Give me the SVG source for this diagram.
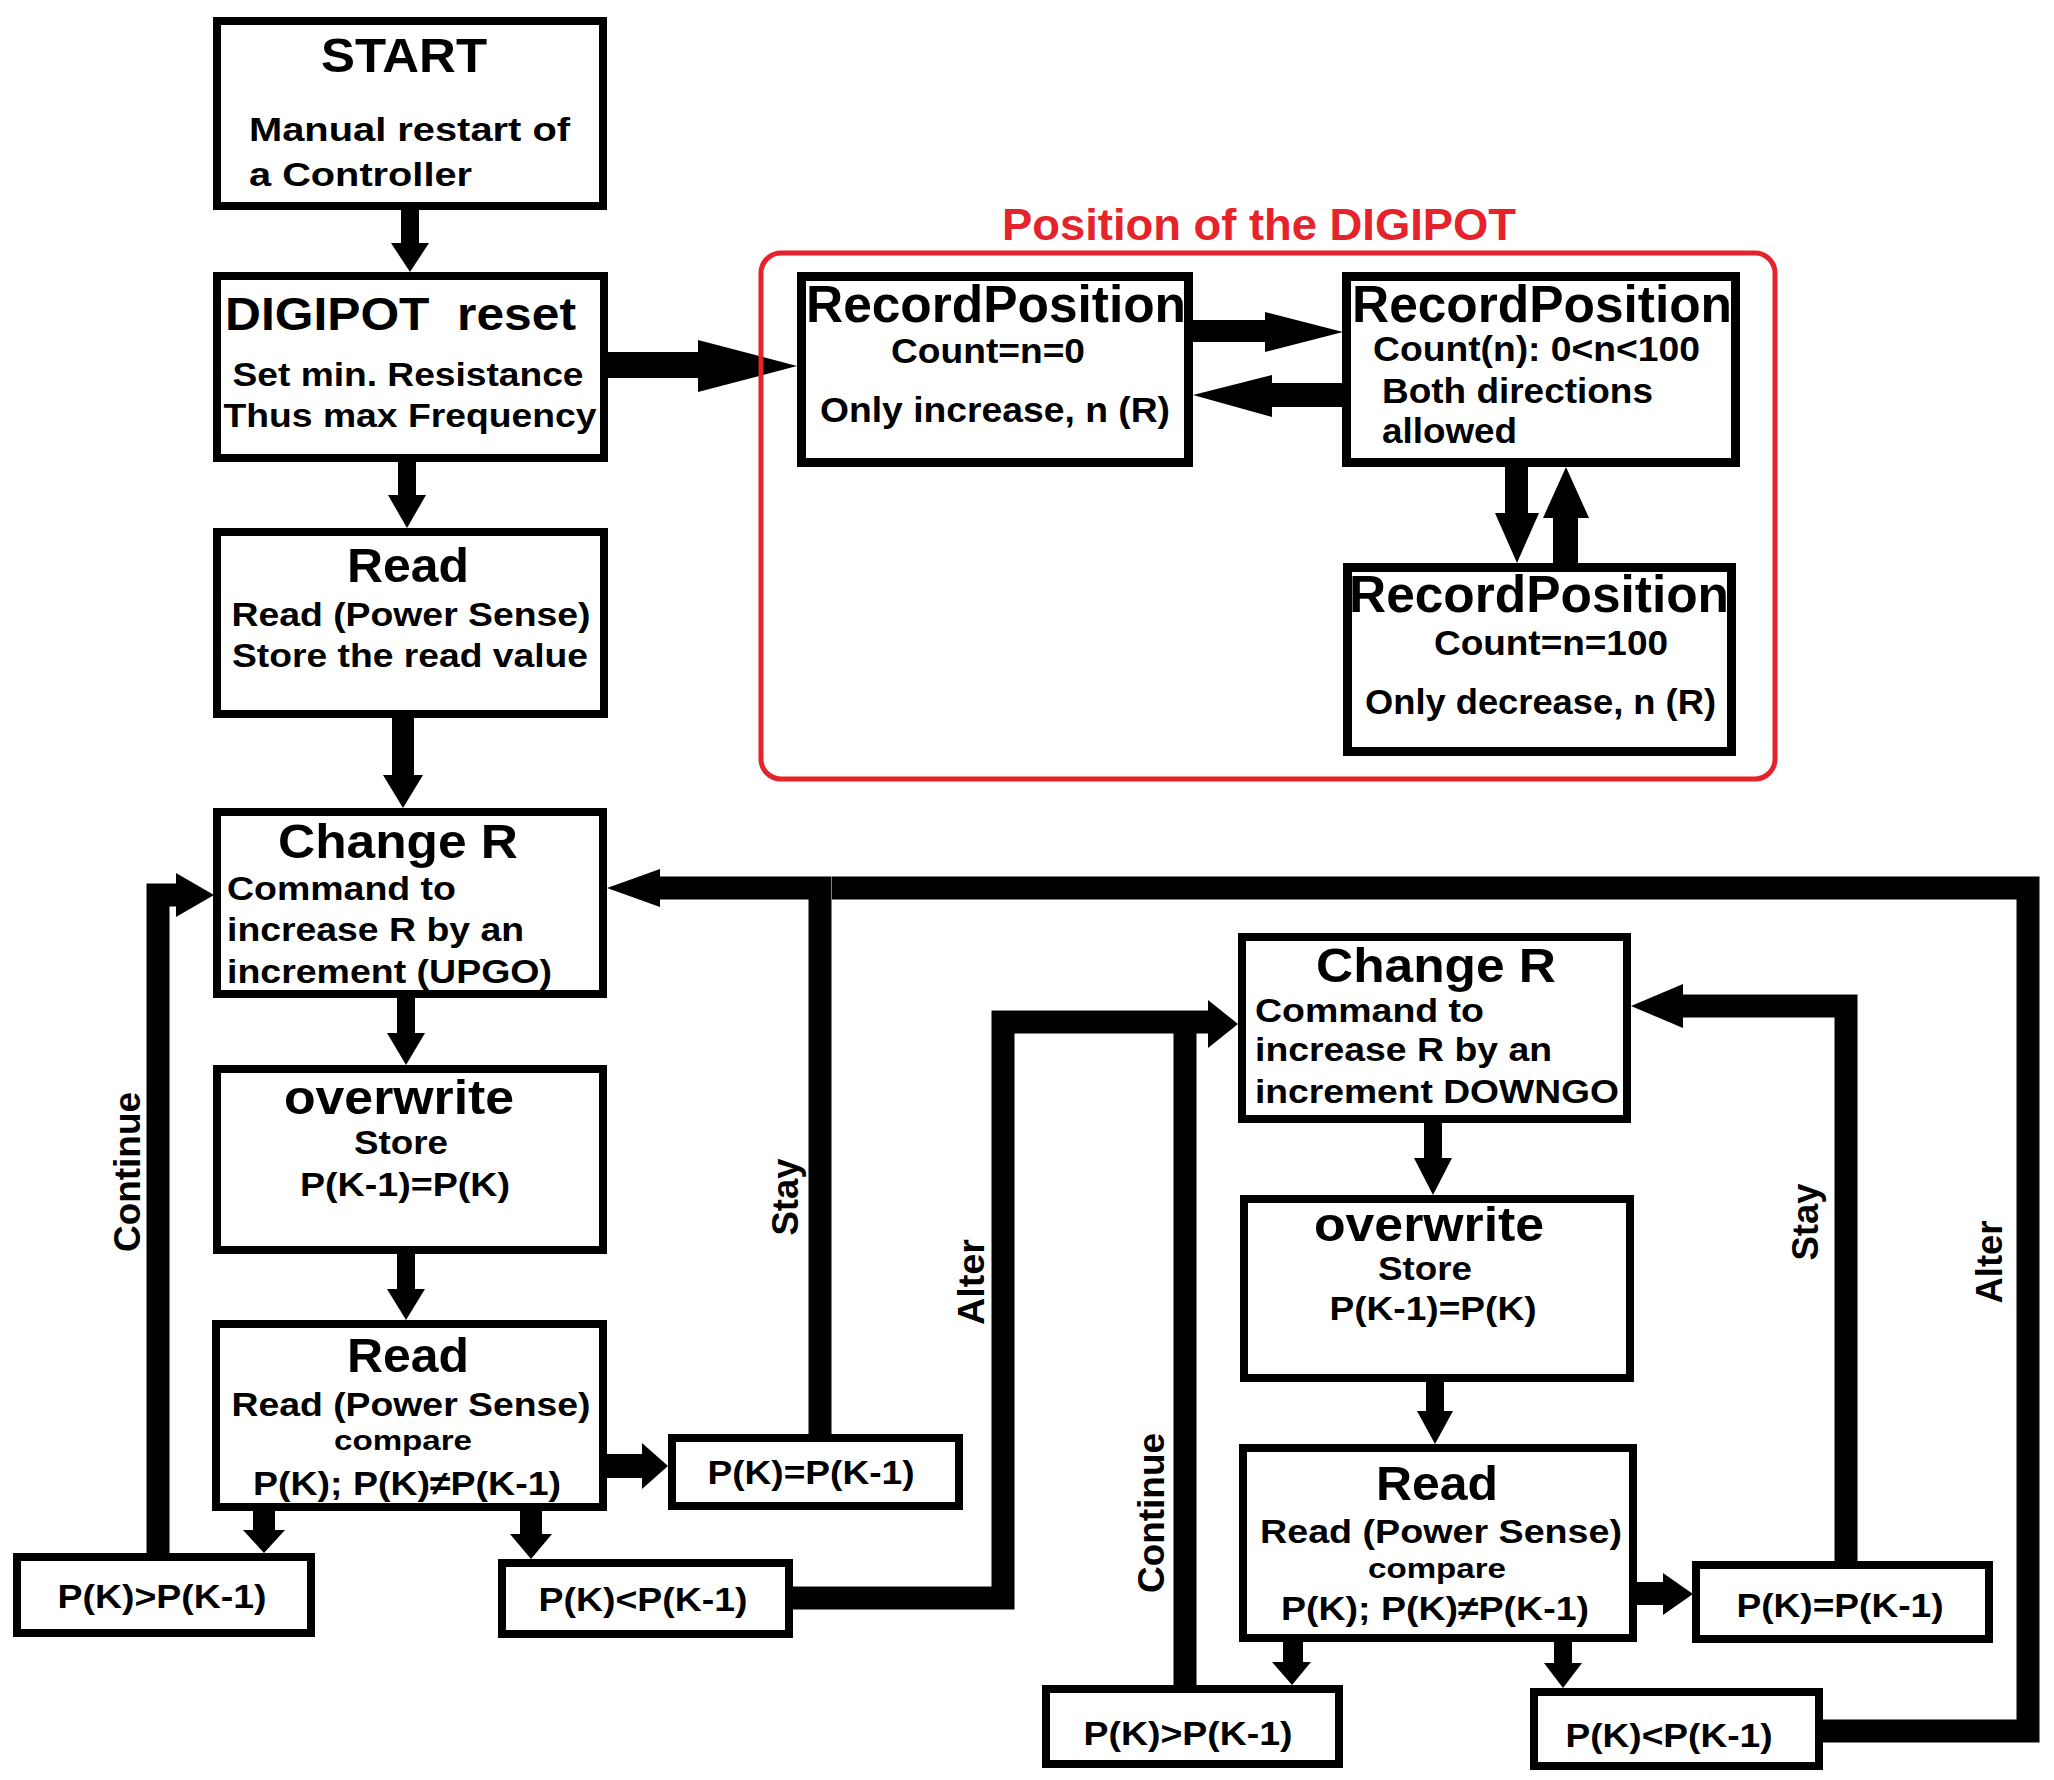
<svg xmlns="http://www.w3.org/2000/svg" width="2054" height="1780" viewBox="0 0 2054 1780">
<style>
text{font-family:"Liberation Sans",Arial,sans-serif;font-weight:bold;fill:#000}
.box{fill:#fff;stroke:#000;stroke-width:8}
.rp{fill:#fff;stroke:#000;stroke-width:9}
.t{font-size:48px}
.b{font-size:34px}
.s{font-size:28px}
.rpt{font-size:52px}
.rps{font-size:35px}
.lbl{font-size:37px}
.c{text-anchor:middle}
.line{fill:none;stroke:#000;stroke-width:23;stroke-linejoin:miter}
.ah{fill:#000}
</style>
<rect width="2054" height="1780" fill="#fff"/>

<g id="connectors">
  <!-- START -> DIGIPOT -->
  <rect class="ah" x="401" y="206" width="18" height="38"/>
  <polygon class="ah" points="391,243 429,243 410,272"/>
  <!-- DIGIPOT -> Read -->
  <rect class="ah" x="398" y="458" width="18" height="38"/>
  <polygon class="ah" points="388,495 426,495 407,528"/>
  <!-- Read -> Change R -->
  <rect class="ah" x="392" y="714" width="22" height="62"/>
  <polygon class="ah" points="383,775 423,775 403,808"/>
  <!-- Change R -> overwrite -->
  <rect class="ah" x="397" y="994" width="18" height="40"/>
  <polygon class="ah" points="387,1033 425,1033 406,1065"/>
  <!-- overwrite -> Read -->
  <rect class="ah" x="397" y="1250" width="18" height="40"/>
  <polygon class="ah" points="387,1289 425,1289 406,1320"/>
  <!-- Read -> P(K)=P(K-1) -->
  <rect class="ah" x="603" y="1454" width="40" height="24"/>
  <polygon class="ah" points="642,1443 642,1489 668,1466"/>
  <!-- Read -> P(K)>P(K-1) -->
  <rect class="ah" x="253" y="1507" width="22" height="24"/>
  <polygon class="ah" points="243,1530 285,1530 264,1553"/>
  <!-- Read -> P(K)<P(K-1) -->
  <rect class="ah" x="520" y="1507" width="22" height="28"/>
  <polygon class="ah" points="510,1534 552,1534 531,1559"/>

  <!-- DIGIPOT -> RecordPosition n=0 -->
  <rect class="ah" x="604" y="352" width="96" height="26"/>
  <polygon class="ah" points="698,340 698,392 797,366"/>
  <!-- RP1 -> RP2 -->
  <rect class="ah" x="1189" y="320" width="78" height="22"/>
  <polygon class="ah" points="1265,312 1265,352 1343,332"/>
  <!-- RP2 -> RP1 -->
  <rect class="ah" x="1270" y="383" width="76" height="24"/>
  <polygon class="ah" points="1272,375 1272,417 1193,395"/>
  <!-- RP2 -> RP3 -->
  <rect class="ah" x="1505" y="463" width="23" height="52"/>
  <polygon class="ah" points="1495,513 1539,513 1517,563"/>
  <!-- RP3 -> RP2 -->
  <rect class="ah" x="1553" y="516" width="25" height="51"/>
  <polygon class="ah" points="1543,518 1589,518 1566,467"/>

  <!-- Continue (left) -->
  <path class="line" d="M158,1555 V895 H178"/>
  <polygon class="ah" points="176,873 176,917 214,895"/>
  <!-- Stay (left) -->
  <path class="line" d="M820,1436 V888 H658"/>
  <polygon class="ah" points="660,869 660,907 607,888"/>
  <!-- Alter (right lower to left Change R) -->
  <path class="line" d="M1821,1731 H2028 V888 H832"/>
  <!-- Alter (left lower to right Change R) -->
  <path class="line" d="M791,1598 H1003 V1022 H1212"/>
  <polygon class="ah" points="1208,1000 1208,1048 1238,1024"/>
  <!-- Continue (right) -->
  <path class="line" d="M1185,1687 V1022"/>

  <!-- Change R (2) -> overwrite (2) -->
  <rect class="ah" x="1424" y="1119" width="18" height="40"/>
  <polygon class="ah" points="1414,1158 1452,1158 1433,1195"/>
  <!-- overwrite (2) -> Read (2) -->
  <rect class="ah" x="1426" y="1378" width="18" height="34"/>
  <polygon class="ah" points="1417,1411 1453,1411 1435,1444"/>
  <!-- Read(3) -> P(K)=P(K-1) -->
  <rect class="ah" x="1633" y="1582" width="32" height="23"/>
  <polygon class="ah" points="1663,1573 1663,1615 1693,1594"/>
  <!-- Read(3) -> P(K)>P(K-1) -->
  <rect class="ah" x="1283" y="1638" width="20" height="26"/>
  <polygon class="ah" points="1272,1662 1311,1662 1292,1685"/>
  <!-- Read(3) -> P(K)<P(K-1) -->
  <rect class="ah" x="1554" y="1638" width="18" height="27"/>
  <polygon class="ah" points="1544,1663 1582,1663 1563,1688"/>
  <!-- Stay (right) -->
  <path class="line" d="M1846,1563 V1006 H1680"/>
  <polygon class="ah" points="1683,984 1683,1028 1631,1006"/>

  <!-- connector labels -->
  <text class="lbl c" transform="translate(140,1172) rotate(-90)" textLength="160" lengthAdjust="spacingAndGlyphs">Continue</text>
  <text class="lbl c" transform="translate(798,1197) rotate(-90)" textLength="77" lengthAdjust="spacingAndGlyphs">Stay</text>
  <text class="lbl c" transform="translate(984,1282) rotate(-90)" textLength="86" lengthAdjust="spacingAndGlyphs">Alter</text>
  <text class="lbl c" transform="translate(1164,1513) rotate(-90)" textLength="160" lengthAdjust="spacingAndGlyphs">Continue</text>
  <text class="lbl c" transform="translate(1818,1222) rotate(-90)" textLength="77" lengthAdjust="spacingAndGlyphs">Stay</text>
  <text class="lbl c" transform="translate(2002,1262) rotate(-90)" textLength="83" lengthAdjust="spacingAndGlyphs">Alter</text>
</g>

<g id="digipot-frame">
  <rect x="761" y="253" width="1014" height="526" rx="20" fill="none" stroke="#e5232b" stroke-width="5"/>
  <text x="1259" y="240" class="c" style="font-size:44px;fill:#e5232b" textLength="514" lengthAdjust="spacingAndGlyphs">Position of the DIGIPOT</text>
</g>

<g id="start">
  <rect class="box" x="217" y="21" width="386" height="185"/>
  <text class="t c" x="404" y="72" textLength="166" lengthAdjust="spacingAndGlyphs">START</text>
  <text class="b" x="249" y="141" textLength="321" lengthAdjust="spacingAndGlyphs">Manual restart of</text>
  <text class="b" x="249" y="186" textLength="223" lengthAdjust="spacingAndGlyphs">a Controller</text>
</g>

<g id="digipot-reset">
  <rect class="box" x="217" y="276" width="387" height="182"/>
  <text x="225" y="330" style="font-size:46px;white-space:pre" textLength="351" lengthAdjust="spacingAndGlyphs">DIGIPOT  reset</text>
  <text class="b c" x="408" y="386" textLength="351" lengthAdjust="spacingAndGlyphs">Set min. Resistance</text>
  <text class="b c" x="410" y="427" textLength="373" lengthAdjust="spacingAndGlyphs">Thus max Frequency</text>
</g>

<g id="read-1">
  <rect class="box" x="217" y="532" width="387" height="182"/>
  <text class="t c" x="408" y="582" textLength="122" lengthAdjust="spacingAndGlyphs">Read</text>
  <text class="b c" x="411" y="626" textLength="359" lengthAdjust="spacingAndGlyphs">Read (Power Sense)</text>
  <text class="b c" x="410" y="667" textLength="356" lengthAdjust="spacingAndGlyphs">Store the read value</text>
</g>

<g id="change-r-up">
  <rect class="box" x="217" y="812" width="386" height="182"/>
  <text class="t c" x="398" y="858" textLength="240" lengthAdjust="spacingAndGlyphs">Change R</text>
  <text class="b" x="227" y="900" textLength="229" lengthAdjust="spacingAndGlyphs">Command to</text>
  <text class="b" x="227" y="941" textLength="297" lengthAdjust="spacingAndGlyphs">increase R by an</text>
  <text class="b" x="227" y="983" textLength="325" lengthAdjust="spacingAndGlyphs">increment (UPGO)</text>
</g>

<g id="overwrite-up">
  <rect class="box" x="217" y="1069" width="386" height="181"/>
  <text class="t c" x="399" y="1114" textLength="230" lengthAdjust="spacingAndGlyphs">overwrite</text>
  <text class="b c" x="401" y="1154" textLength="94" lengthAdjust="spacingAndGlyphs">Store</text>
  <text class="b c" x="405" y="1196" textLength="210" lengthAdjust="spacingAndGlyphs">P(K-1)=P(K)</text>
</g>

<g id="read-up">
  <rect class="box" x="216" y="1324" width="387" height="183"/>
  <text class="t c" x="408" y="1372" textLength="122" lengthAdjust="spacingAndGlyphs">Read</text>
  <text class="b c" x="411" y="1416" textLength="359" lengthAdjust="spacingAndGlyphs">Read (Power Sense)</text>
  <text class="s c" x="403" y="1450" textLength="138" lengthAdjust="spacingAndGlyphs">compare</text>
  <text class="b c" x="407" y="1495" textLength="308" lengthAdjust="spacingAndGlyphs">P(K); P(K)≠P(K-1)</text>
</g>

<g id="eq-up">
  <rect class="box" x="672" y="1438" width="287" height="68"/>
  <text class="b c" x="811" y="1484" textLength="207" lengthAdjust="spacingAndGlyphs">P(K)=P(K-1)</text>
</g>

<g id="gt-up">
  <rect class="box" x="17" y="1557" width="294" height="76"/>
  <text class="b c" x="162" y="1608" textLength="209" lengthAdjust="spacingAndGlyphs">P(K)&gt;P(K-1)</text>
</g>

<g id="lt-up">
  <rect class="box" x="502" y="1563" width="287" height="71"/>
  <text class="b c" x="643" y="1611" textLength="209" lengthAdjust="spacingAndGlyphs">P(K)&lt;P(K-1)</text>
</g>

<g id="record-0">
  <rect class="rp" x="801.5" y="276.5" width="387" height="186"/>
  <text class="rpt" x="806" y="322" textLength="380" lengthAdjust="spacingAndGlyphs">RecordPosition</text>
  <text class="rps c" x="988" y="363" textLength="194" lengthAdjust="spacingAndGlyphs">Count=n=0</text>
  <text class="rps" x="820" y="422" textLength="350" lengthAdjust="spacingAndGlyphs">Only increase, n (R)</text>
</g>

<g id="record-mid">
  <rect class="rp" x="1346.5" y="276.5" width="389" height="186"/>
  <text class="rpt" x="1352" y="322" textLength="380" lengthAdjust="spacingAndGlyphs">RecordPosition</text>
  <text class="rps" x="1373" y="361" textLength="327" lengthAdjust="spacingAndGlyphs">Count(n): 0&lt;n&lt;100</text>
  <text class="rps" x="1382" y="403" textLength="271" lengthAdjust="spacingAndGlyphs">Both directions</text>
  <text class="rps" x="1382" y="443" textLength="135" lengthAdjust="spacingAndGlyphs">allowed</text>
</g>

<g id="record-100">
  <rect class="rp" x="1347.5" y="567.5" width="384" height="184"/>
  <text class="rpt" x="1349" y="612" textLength="380" lengthAdjust="spacingAndGlyphs">RecordPosition</text>
  <text class="rps c" x="1551" y="655" textLength="234" lengthAdjust="spacingAndGlyphs">Count=n=100</text>
  <text class="rps" x="1365" y="714" textLength="351" lengthAdjust="spacingAndGlyphs">Only decrease, n (R)</text>
</g>

<g id="change-r-down">
  <rect class="box" x="1242" y="937" width="385" height="182"/>
  <text class="t c" x="1436" y="982" textLength="240" lengthAdjust="spacingAndGlyphs">Change R</text>
  <text class="b" x="1255" y="1022" textLength="229" lengthAdjust="spacingAndGlyphs">Command to</text>
  <text class="b" x="1255" y="1061" textLength="297" lengthAdjust="spacingAndGlyphs">increase R by an</text>
  <text class="b" x="1255" y="1103" textLength="364" lengthAdjust="spacingAndGlyphs">increment DOWNGO</text>
</g>

<g id="overwrite-down">
  <rect class="box" x="1244" y="1199" width="386" height="179"/>
  <text class="t c" x="1429" y="1241" textLength="230" lengthAdjust="spacingAndGlyphs">overwrite</text>
  <text class="b c" x="1425" y="1280" textLength="94" lengthAdjust="spacingAndGlyphs">Store</text>
  <text class="b c" x="1433" y="1320" textLength="207" lengthAdjust="spacingAndGlyphs">P(K-1)=P(K)</text>
</g>

<g id="read-down">
  <rect class="box" x="1243" y="1448" width="390" height="190"/>
  <text class="t c" x="1437" y="1500" textLength="122" lengthAdjust="spacingAndGlyphs">Read</text>
  <text class="b c" x="1441" y="1543" textLength="362" lengthAdjust="spacingAndGlyphs">Read (Power Sense)</text>
  <text class="s c" x="1437" y="1578" textLength="138" lengthAdjust="spacingAndGlyphs">compare</text>
  <text class="b c" x="1435" y="1620" textLength="308" lengthAdjust="spacingAndGlyphs">P(K); P(K)≠P(K-1)</text>
</g>

<g id="eq-down">
  <rect class="box" x="1696" y="1565" width="293" height="74"/>
  <text class="b c" x="1840" y="1617" textLength="207" lengthAdjust="spacingAndGlyphs">P(K)=P(K-1)</text>
</g>

<g id="gt-down">
  <rect class="box" x="1046" y="1689" width="293" height="75"/>
  <text class="b c" x="1188" y="1745" textLength="209" lengthAdjust="spacingAndGlyphs">P(K)&gt;P(K-1)</text>
</g>

<g id="lt-down">
  <rect class="box" x="1534" y="1692" width="285" height="74"/>
  <text class="b c" x="1669" y="1747" textLength="207" lengthAdjust="spacingAndGlyphs">P(K)&lt;P(K-1)</text>
</g>
</svg>
